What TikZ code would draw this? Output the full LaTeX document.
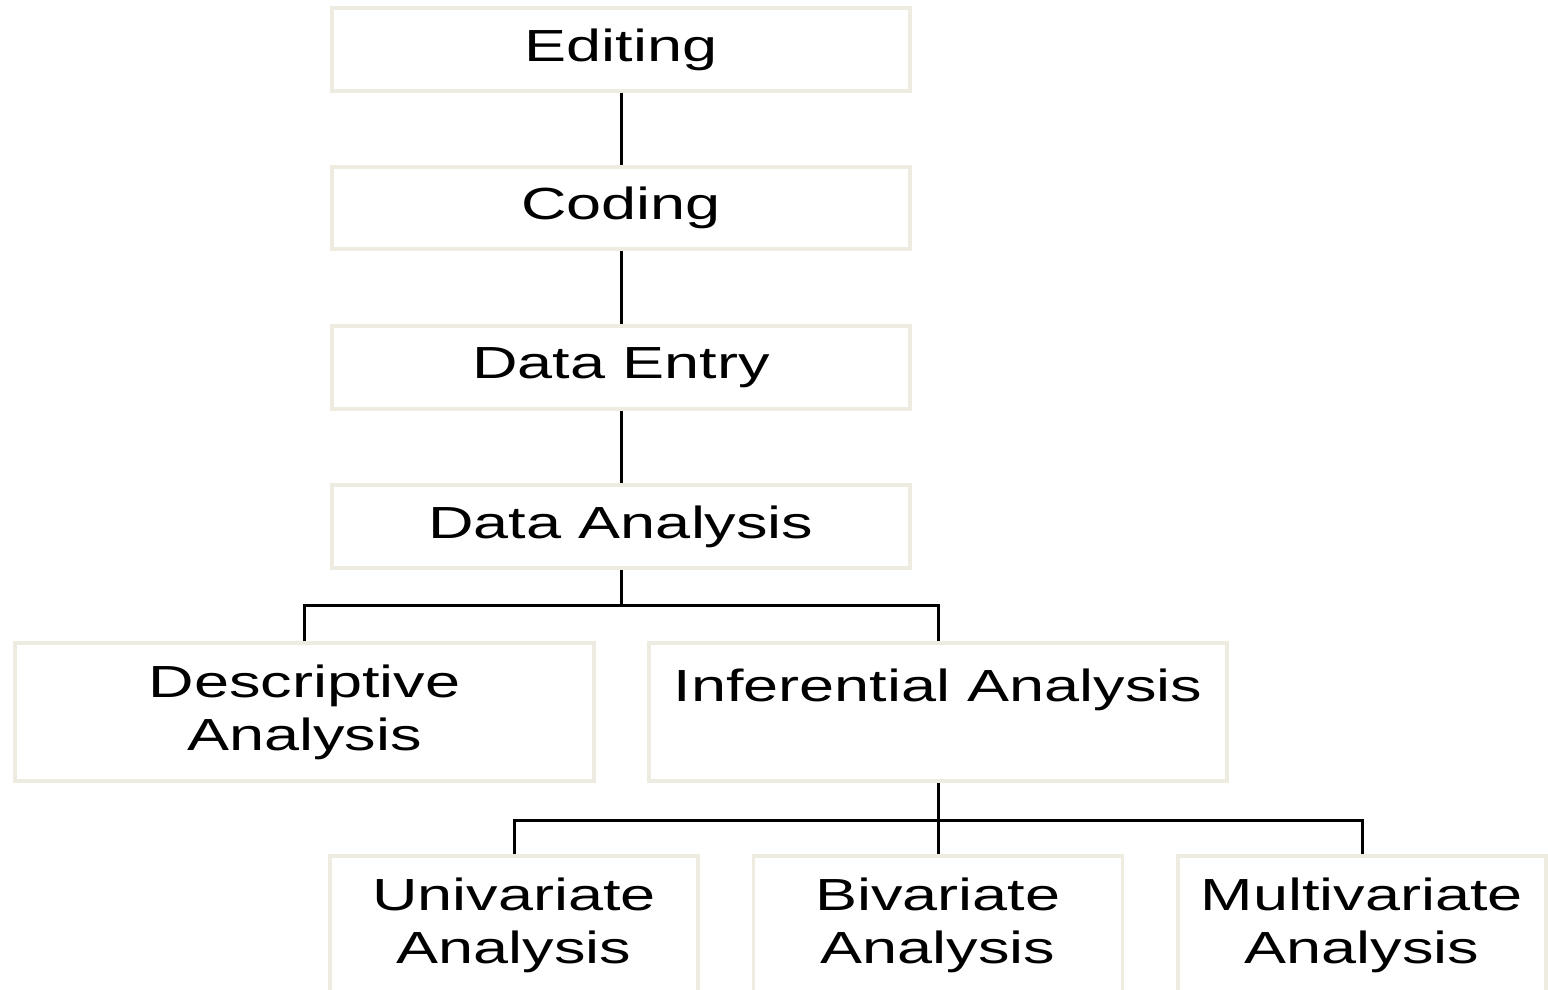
\documentclass[tikz,border=0pt]{standalone}
\usepackage{fontspec}
\newfontfamily\boxfont[FakeStretch=1.4]{Liberation Sans}
\definecolor{boxedge}{HTML}{EEECE1}
\tikzset{
  stage/.style={draw=boxedge, line width=3.5pt, fill=white, align=center,
    inner sep=0pt, font=\boxfont\fontsize{45}{53}\selectfont, text=black},
  link/.style={draw=black, line width=3pt}
}
\begin{document}
\begin{tikzpicture}[x=1pt,y=1pt]
  \fill[white] (0,0) rectangle (1548,-990);
  \useasboundingbox (0,0) rectangle (1548,-990);
  \begin{scope}
    \clip (0,0) rectangle (1548,-990);
    % main chain
    \node[stage, minimum width=578pt, minimum height=83pt] (edit) at (621,-49.5) {Editing};
    \node[stage, minimum width=578pt, minimum height=82pt] (code) at (621,-208) {Coding};
    \node[stage, minimum width=578pt, minimum height=83pt] (entry) at (621,-367.5) {Data Entry};
    \node[stage, minimum width=578pt, minimum height=83pt] (analysis) at (621,-526.5) {Data Analysis};
    % second level
    \node[stage, minimum width=579pt, minimum height=138pt] (desc) at (304.5,-712) {Descriptive\\Analysis};
    \node[stage, minimum width=578pt, minimum height=138pt] (infer) at (938,-712) {Inferential Analysis\\\mbox{}};
    % third level
    \node[stage, minimum width=368pt, minimum height=138pt] (uni) at (514,-925) {Univariate\\Analysis};
    \node[stage, minimum width=369pt, minimum height=138pt] (bi) at (938,-925) {Bivariate\\Analysis};
    \node[stage, minimum width=368pt, minimum height=138pt] (multi) at (1362,-925) {Multivariate\\Analysis};
    % connectors
    \coordinate (fork1) at (621,-605);
    \coordinate (fork2) at (938,-820);
    \draw[link] (edit) -- (code);
    \draw[link] (code) -- (entry);
    \draw[link] (entry) -- (analysis);
    \draw[link] (analysis) -- (fork1);
    \draw[link] (desc.north) |- (fork1) -| (infer.north);
    \draw[link] (infer) -- (bi);
    \draw[link] (uni.north) |- (fork2) -| (multi.north);
  \end{scope}
\end{tikzpicture}
\end{document}
